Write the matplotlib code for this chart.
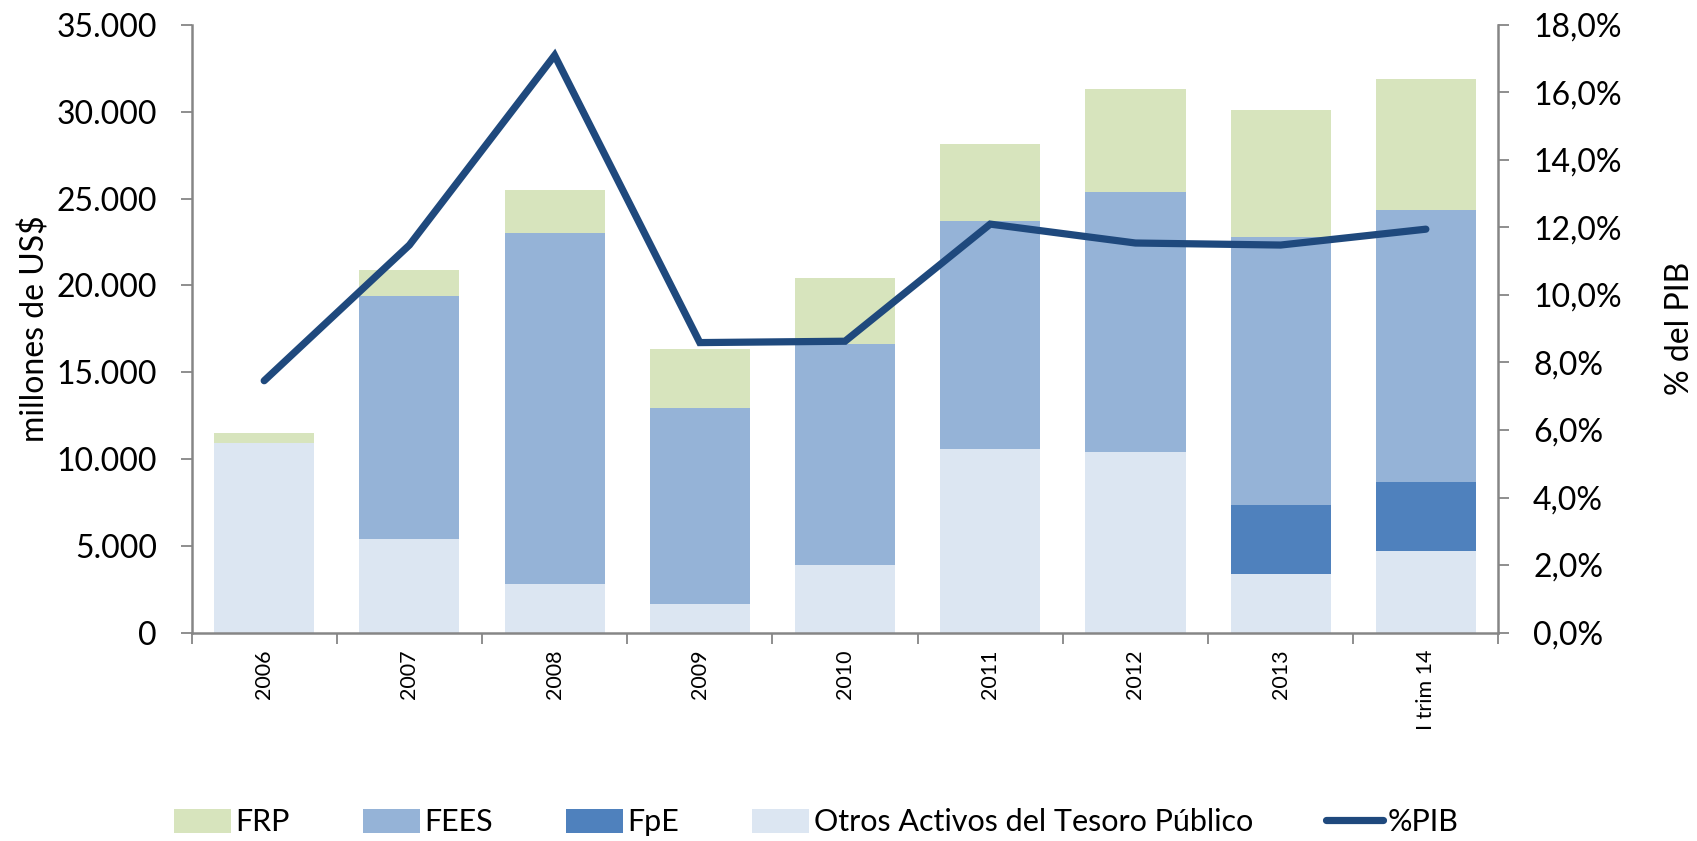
import matplotlib.pyplot as plt
import numpy as np
from matplotlib.ticker import FuncFormatter, FixedLocator

plt.rcParams['font.family'] = ['Lato', 'DejaVu Sans']

categorias = ['2006', '2007', '2008', '2009', '2010', '2011', '2012', '2013', 'I trim 14']
otros = [10900, 5400, 2800, 1650, 3900, 10590, 10420, 3350, 4710]
fpe = [0, 0, 0, 0, 0, 0, 0, 3990, 3940]
fees = [0, 14010, 20200, 11280, 12710, 13130, 14970, 15420, 15690]
frp = [600, 1480, 2510, 3420, 3830, 4420, 5900, 7340, 7550]
pib = [7.46, 11.48, 17.10, 8.59, 8.63, 12.10, 11.54, 11.48, 11.95]

c_frp = '#D7E4BD'
c_fees = '#95B3D7'
c_fpe = '#4F81BD'
c_otros = '#DCE6F2'
c_line = '#1F497D'
c_axis = '#868686'

fig = plt.figure(figsize=(16.97, 8.41), dpi=100)
ax = fig.add_axes([0.1129, 0.2479, 0.7701, 0.7224])
ax2 = ax.twinx()

x = np.arange(len(categorias))
w = 0.69
b1 = np.array(otros)
b2 = b1 + np.array(fpe)
b3 = b2 + np.array(fees)
ax.bar(x, otros, w, color=c_otros, label='Otros Activos del Tesoro Público', zorder=2)
ax.bar(x, fpe, w, bottom=b1, color=c_fpe, label='FpE', zorder=2)
ax.bar(x, fees, w, bottom=b2, color=c_fees, label='FEES', zorder=2)
ax.bar(x, frp, w, bottom=b3, color=c_frp, label='FRP', zorder=2)

ax2.plot(x, pib, color=c_line, lw=5.2, solid_capstyle='round', solid_joinstyle='miter', label='%PIB')

ax.set_xlim(-0.5, len(categorias) - 0.5)
ax.set_ylim(0, 35000)
ax2.set_ylim(0, 18)

ax.set_yticks(np.arange(0, 35001, 5000))
ax.yaxis.set_major_formatter(FuncFormatter(lambda v, p: f'{int(v):,}'.replace(',', '.')))
ax2.set_yticks(np.arange(0, 18.1, 2))
ax2.yaxis.set_major_formatter(FuncFormatter(lambda v, p: f'{v:.1f}%'.replace('.', ',')))

ax.xaxis.set_major_locator(FixedLocator(np.arange(-0.5, len(categorias), 1)))
ax.xaxis.set_major_formatter(FuncFormatter(lambda v, p: ''))
ax.set_xticks(x, minor=True)
ax.set_xticklabels(categorias, minor=True, rotation=90, fontsize=15.5, va='top')
ax.tick_params(axis='x', which='minor', length=0, pad=12)
ax.tick_params(axis='x', which='major', length=8, width=1.3, color=c_axis, direction='out')

ax.tick_params(axis='y', labelsize=23, length=8, width=1.3, color=c_axis, pad=17)
ax2.tick_params(axis='y', labelsize=23, length=8, width=1.3, color=c_axis, pad=17)

for a in (ax, ax2):
    a.spines['top'].set_visible(False)
    for s in ('left', 'right', 'bottom'):
        a.spines[s].set_color(c_axis)
        a.spines[s].set_linewidth(1.8)
ax.spines['right'].set_visible(False)
ax2.spines['left'].set_visible(False)
ax2.spines['bottom'].set_visible(False)

ax.set_ylabel('millones de US$', fontsize=23, va='center')
ax.yaxis.set_label_coords(-0.1195, 0.5)
ax2.set_ylabel('% del PIB', fontsize=23, rotation=90, va='center')
ax2.yaxis.set_label_coords(1.139, 0.5)

h, l = ax.get_legend_handles_labels()
h2, l2 = ax2.get_legend_handles_labels()
order = [3, 2, 1, 0]
handles = [h[i] for i in order] + h2
labels = [l[i] for i in order] + l2
fig.legend(handles, labels, loc='center', bbox_to_anchor=(0.481, 0.022), ncol=5,
           frameon=False, fontsize=22, handlelength=1.85, handleheight=0.8,
           handletextpad=0.15, columnspacing=2.4, borderpad=0)

fig.savefig('out.png', dpi=100)
